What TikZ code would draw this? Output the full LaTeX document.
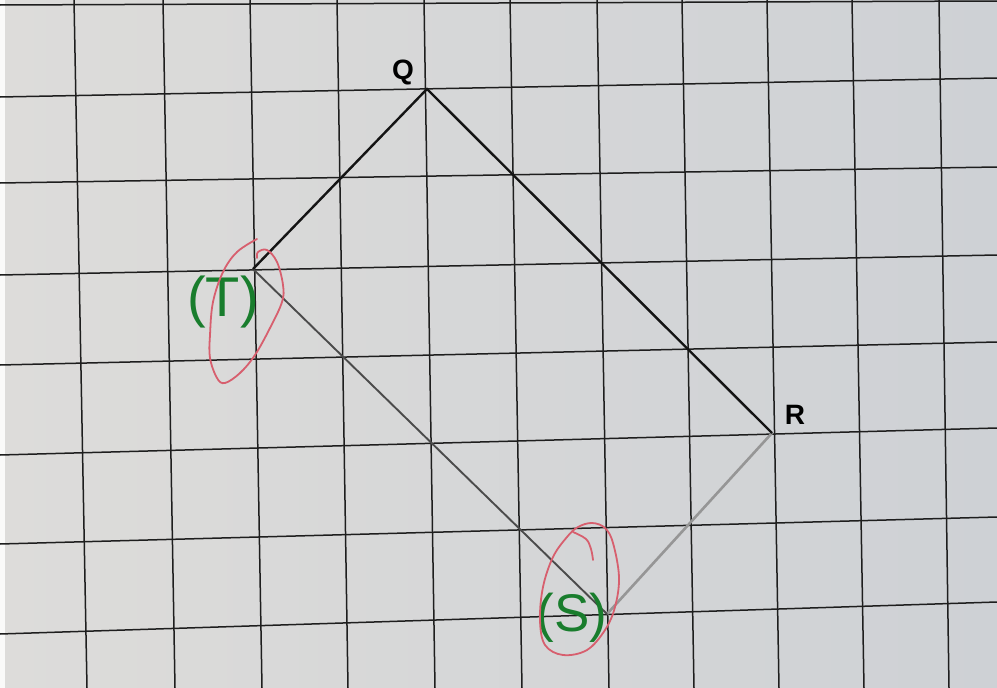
\documentclass[tikz,border=0pt]{standalone}
\usepackage{fontspec}
\setmainfont{Liberation Sans}
\definecolor{paperL}{RGB}{221,220,218}
\definecolor{paperR}{RGB}{206,209,213}
\definecolor{gridc}{RGB}{30,30,30}
\definecolor{penc}{RGB}{20,20,20}
\definecolor{pencildark}{RGB}{75,75,75}
\definecolor{pencillight}{RGB}{150,150,150}
\definecolor{greenpen}{RGB}{25,125,45}
\definecolor{redpen}{RGB}{215,95,110}
\tikzset{
  gridline/.style={draw=gridc, line width=1.5pt},
  inkline/.style={draw=penc, line width=2.4pt},
  pencilA/.style={draw=pencildark, line width=1.9pt},
  pencilB/.style={draw=pencillight, line width=2.6pt},
  vlabel/.style={font=\fontsize{28}{32}\selectfont\bfseries, text=black, inner sep=0pt},
  glabel/.style={font=\fontsize{56}{60}\selectfont, text=greenpen, inner sep=0pt},
  redloop/.style={draw=redpen, line width=1.8pt, line cap=round, line join=round}
}
\begin{document}
\begin{tikzpicture}[x=1pt,y=-1pt]
\useasboundingbox (0,0) rectangle (997,688);
\shade[left color=paperL, right color=paperR] (0,0) rectangle (997,688);
\fill[white!85!paperL] (0,0) rectangle (5,688);
% grid
\foreach \a/\b in {74/87,163/175,250/262,337/348,424/435,510/522,597/609,682/694,767/779,852/864,939/949}
  \draw[gridline] (\a,0) -- (\b,688);
\foreach \a/\b in {5/1,97/78,183/167,275/255,365/342,455/428,544/517,634/602}
  \draw[gridline] (0,\a) -- (997,\b);
% vertices
\coordinate (Q) at (427,89);
\coordinate (R) at (772,433);
\coordinate (S) at (607,614);
\coordinate (T) at (253,269);
% sides
\draw[pencilB] (S) -- (R);
\draw[pencilA] (T) -- (S);
\draw[inkline] (T) -- (Q) -- (R);
% labels
\node[vlabel] (lq) at (403,72) {Q};
\node[vlabel] (lr) at (795,415) {R};
\node[glabel] (lt) at (223,302) {(T)};
\node[glabel, font=\fontsize{53}{58}\selectfont] (ls) at (572,618) {(S)};
% red loops
\draw[redloop] plot[smooth, tension=0.6] coordinates {(257,239) (237,252) (223,272) (213,302) (210,335) (210,358) (217,378) (225,383) (240,373) (255,355) (270,328) (282,302) (283,285) (277,262) (267,250) (258,252) (257,258)};
\draw[redloop] plot[smooth cycle, tension=0.6] coordinates {(592,523) (605,528) (613,543) (619,577) (615,607) (605,630) (587,650) (563,655) (545,645) (540,620) (543,587) (553,557) (567,537) (578,527)};
\draw[redloop] plot[smooth, tension=0.6] coordinates {(573,532) (586,539) (591,549) (593,560)};
\end{tikzpicture}
\end{document}
